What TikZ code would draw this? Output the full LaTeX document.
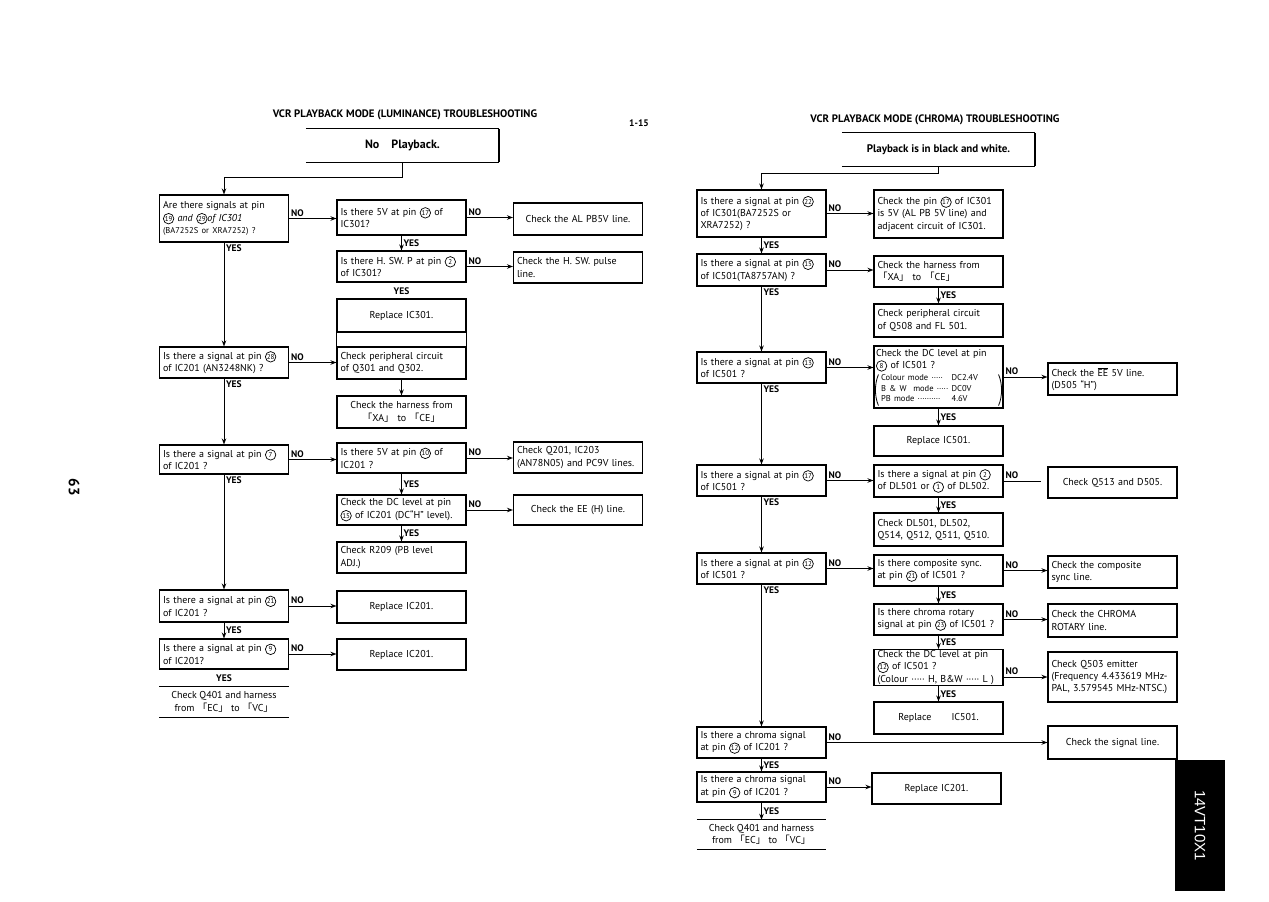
\documentclass[tikz,border=0pt]{standalone}
\usepackage{fontspec}
\setmainfont{PT Sans}
\setsansfont{Liberation Sans}
\newfontfamily\cjk{Noto Sans CJK JP}
\usetikzlibrary{arrows.meta}
\newcommand{\vcrfont}{\fontsize{10}{12.3}\selectfont}
\newcommand{\vcrsmall}{\fontsize{8.5}{11}\selectfont}
\newcommand{\lblfont}{\fontsize{9.5}{10}\selectfont\bfseries}
\newcommand{\ttlfont}{\fontsize{10.8}{12}\selectfont\bfseries}
\newcommand{\lbk}{{\cjk 「}}
\newcommand{\rbk}{{\cjk 」}}
\newcommand{\pin}[1]{\tikz[baseline=(pn.base)]\node[draw, circle, line width=0.7pt, inner sep=0pt,
  minimum size=10.5pt, text width={}, align=center, font=\fontsize{7}{7}\selectfont] (pn) {#1};}
\newcommand{\vcrblk}[6]{%
  \pgfmathsetmacro{\vcrcy}{(#3+#4)/2}%
  \pgfmathsetmacro{\vcrh}{#4-#3}%
  \node[blk, minimum height=\vcrh pt, #6] (#1) at (#2,\vcrcy) {#5};}

\begin{document}
\begin{tikzpicture}[x=1pt, y=-1pt,
  blk/.style={draw, line width=1.1pt, font=\vcrfont, align=left, text width=122pt,
              minimum width=129pt, inner xsep=3.5pt, inner ysep=1pt},
  ctr/.style={align=center},
  lbl/.style={font=\lblfont, inner sep=1.5pt},
  arr/.style={line width=1pt, -{Stealth[length=6pt,width=4.5pt]}},
  ttl/.style={font=\ttlfont}]
\fill[white] (0,0) rectangle (1269,902);
\useasboundingbox (0,0) rectangle (1269,902);
% page marks
\node[ttl] (ttlL) at (405,115) {VCR PLAYBACK MODE (LUMINANCE) TROUBLESHOOTING};
\node[font=\lblfont] (pgsec) at (639,123) {1-15};
\node[ttl] (ttlR) at (935,120) {VCR PLAYBACK MODE (CHROMA) TROUBLESHOOTING};
\node[font=\fontsize{15}{15}\selectfont\bfseries, rotate=-90] (pgno) at (74,487) {63};
\node[fill=black, text=white, rotate=-90, minimum width=131pt, minimum height=50pt,
      font=\sffamily\fontsize{15}{15}\selectfont] (tag) at (1200,825.5) {14VT10X1};

% luminance: start
\node[font=\fontsize{12}{14}\selectfont\bfseries, minimum width=193pt, minimum height=33pt] (nopb) at (402.5,145.5) {No\quad Playback.};
\draw[line width=1.1pt] (nopb.north west) -- (nopb.north east);
\draw[line width=1.1pt] (nopb.south west) -- (nopb.south east);
\draw[line width=2.2pt] (nopb.north east) -- (nopb.south east);
% luminance: left column
\vcrblk{q19}{224}{195}{242}{Are there signals at pin\\ \pin{19} \textit{and} \pin{29}\textit{of\ IC301}\\ {\vcrsmall (BA7252S or XRA7252) ?}}{}
\vcrblk{q28}{224}{347}{378}{Is there a signal at pin \pin{28}\\ of IC201 (AN3248NK) ?}{}
\vcrblk{q7}{224}{445}{474}{Is there a signal at pin \pin{7}\\ of IC201 ?}{}
\vcrblk{q21}{224}{590}{622}{Is there a signal at pin \pin{21}\\ of IC201 ?}{}
\vcrblk{q9}{224}{639}{669}{Is there a signal at pin \pin{9}\\ of IC201?}{}
\node[lbl] (yesL) at (224,678) {YES};
\node[font=\vcrfont, align=center, minimum width=129pt, minimum height=30pt] (chkL) at (224,702)
  {Check Q401 and harness\\ from \lbk EC\rbk\ to \lbk VC\rbk};
\draw[line width=1.1pt] (chkL.north west) -- (chkL.north east);
\draw[line width=1.1pt] (chkL.south west) -- (chkL.south east);
% luminance: middle column
\vcrblk{q17}{401.5}{200}{235}{Is there 5V at pin \pin{17} of\\ IC301?}{}
\vcrblk{q2}{401.5}{251}{282}{Is there H. SW. P at pin \pin{2}\\ of IC301?}{}
\node[lbl] (yes301) at (401.5,291) {YES};
\vcrblk{rep301}{401.5}{299}{332}{Replace IC301.}{ctr}
\vcrblk{per301}{401.5}{347}{379}{Check peripheral circuit\\ of Q301 and Q302.}{}
\draw[line width=1.1pt] (rep301.south west) -- (per301.north west);
\draw[line width=1.1pt] (rep301.south east) -- (per301.north east);
\vcrblk{hxa}{401.5}{396}{428}{Check the harness from\\ \lbk XA\rbk\ to \lbk CE\rbk}{ctr}
\vcrblk{q10}{401.5}{443}{473}{Is there 5V at pin \pin{10} of\\ IC201 ?}{}
\vcrblk{q15}{401.5}{495}{525}{Check the DC level at pin\\ \pin{15} of IC201 (DC“H” level).}{}
\vcrblk{r209}{401.5}{542}{573}{Check R209 (PB level\\ ADJ.)}{}
\vcrblk{rep201a}{401.5}{591}{623}{Replace IC201.}{ctr}
\vcrblk{rep201b}{401.5}{639}{670}{Replace IC201.}{ctr}
% luminance: right column
\vcrblk{alpb}{578}{203}{235}{Check the AL PB5V line.}{ctr}
\vcrblk{hswl}{578}{252}{283}{Check the H. SW. pulse\\ line.}{}
\vcrblk{q201}{578}{442}{473}{Check Q201, IC203\\ (AN78N05) and PC9V lines.}{}
\vcrblk{eeh}{578}{495}{525}{Check the EE (H) line.}{ctr}
% luminance: connectors
\draw[arr] (nopb.south) -- ++(0,15) -| (q19.north);
\draw[arr] (q19.east) -- node[lbl, pos=0, above right] {NO} (q19.east -| q17.west);
\draw[arr] (q17.east) -- node[lbl, pos=0, above right] {NO} (q17.east -| alpb.west);
\draw[arr] (q17.south) -- node[lbl, right] {YES} (q2.north);
\draw[arr] (q2.east) -- node[lbl, pos=0, above right] {NO} (q2.east -| hswl.west);
\draw[arr] (per301.south) -- (hxa.north);
\draw[arr] (q19.south) -- node[lbl, pos=0, below right] {YES} (q28.north);
\draw[arr] (q28.east) -- node[lbl, pos=0, above right] {NO} (q28.east -| per301.west);
\draw[arr] (q28.south) -- node[lbl, pos=0, below right] {YES} (q7.north);
\draw[arr] (q7.east) -- node[lbl, pos=0, above right] {NO} (q7.east -| q10.west);
\draw[arr] (q10.east) -- node[lbl, pos=0, above right] {NO} (q10.east -| q201.west);
\draw[arr] (q10.south) -- node[lbl, right] {YES} (q15.north);
\draw[arr] (q15.east) -- node[lbl, pos=0, above right] {NO} (q15.east -| eeh.west);
\draw[arr] (q15.south) -- node[lbl, right] {YES} (r209.north);
\draw[arr] (q7.south) -- node[lbl, pos=0, below right] {YES} (q21.north);
\draw[arr] (q21.east) -- node[lbl, pos=0, above right] {NO} (q21.east -| rep201a.west);
\draw[arr] (q21.south) -- node[lbl, right] {YES} (q9.north);
\draw[arr] (q9.east) -- node[lbl, pos=0, above right] {NO} (q9.east -| rep201b.west);

% chroma: start
\node[font=\fontsize{11}{13}\selectfont\bfseries, minimum width=193pt, minimum height=33pt] (pbw) at (938.5,149.5) {Playback is in black and white.};
\draw[line width=1.1pt] (pbw.north west) -- (pbw.north east);
\draw[line width=1.1pt] (pbw.south west) -- (pbw.south east);
\draw[line width=1.6pt] (pbw.north east) -- (pbw.south east);
% chroma: left column
\vcrblk{c22}{761.5}{190}{237}{Is there a signal at pin \pin{22}\\ of IC301(BA7252S or\\ XRA7252) ?}{}
\vcrblk{c15}{761.5}{254}{286}{Is there a signal at pin \pin{15}\\ of IC501(TA8757AN) ?}{}
\vcrblk{c13}{761.5}{352}{383}{Is there a signal at pin \pin{13}\\ of IC501 ?}{}
\vcrblk{c17b}{761.5}{465}{496}{Is there a signal at pin \pin{17}\\ of IC501 ?}{}
\vcrblk{c12}{761.5}{553}{584}{Is there a signal at pin \pin{12}\\ of IC501 ?}{}
\vcrblk{c12b}{761.5}{727}{758}{Is there a chroma signal\\ at pin \pin{12} of IC201 ?}{}
\vcrblk{c9}{761.5}{772}{802}{Is there a chroma signal\\ at pin \pin{9} of IC201 ?}{}
\node[font=\vcrfont, align=center, minimum width=129pt, minimum height=29pt] (chkR) at (761.5,834.5)
  {Check Q401 and harness\\ from \lbk EC\rbk\ to \lbk VC\rbk};
\draw[line width=1.1pt] (chkR.north west) -- (chkR.north east);
\draw[line width=1.1pt] (chkR.south west) -- (chkR.south east);
% chroma: middle column
\vcrblk{chk17}{938.5}{190}{238}{Check the pin \pin{17} of IC301\\ is 5V (AL PB 5V line) and\\ adjacent circuit of IC301.}{}
\vcrblk{cxa}{938.5}{256}{287}{Check the harness from\\ \lbk XA\rbk\ to \lbk CE\rbk}{}
\vcrblk{c508}{938.5}{304}{337}{Check peripheral circuit\\ of Q508 and FL 501.}{}
\vcrblk{c8}{938.5}{346}{408}{Check the DC level at pin\\ \pin{8} of IC501 ?\\[1pt]
  {\fontsize{8.5}{10.5}\selectfont\begin{tabular}{@{\hspace{5pt}}l@{ }l@{}}Colour mode ·····&DC2.4V\\ B \& W\ \ mode ·····&DC0V\\ PB mode ··········&4.6V\end{tabular}}}{inner xsep=2pt, inner ysep=0pt, text width=125pt}
\draw[line width=0.8pt] ([xshift=5pt,yshift=3pt]c8.south west) .. controls +(-4,-9) and +(-4,9) .. ++(0,-31);
\draw[line width=0.8pt] ([xshift=-5pt,yshift=3pt]c8.south east) .. controls +(4,-9) and +(4,9) .. ++(0,-31);
\vcrblk{rep501a}{938.5}{426}{456}{Replace IC501.}{ctr}
\vcrblk{cdl}{938.5}{465}{497}{Is there a signal at pin \pin{2}\\ of DL501 or \pin{1} of DL502.}{}
\vcrblk{dlck}{938.5}{513}{546}{Check DL501, DL502,\\ Q514, Q512, Q511, Q510.}{}
\vcrblk{csync}{938.5}{555}{586}{Is there composite sync.\\ at pin \pin{21} of IC501 ?}{}
\vcrblk{crot}{938.5}{604}{635}{Is there chroma rotary\\ signal at pin \pin{23} of IC501 ?}{}
\vcrblk{c12dc}{938.5}{651}{684}{Check the DC level at pin\\ \pin{12} of IC501 ?\\ (Colour ····· H, B\&W ····· L )}{}
\vcrblk{rep501b}{938.5}{702}{734}{Replace\quad\quad IC501.}{ctr}
\vcrblk{rep201c}{936.5}{773}{804}{Replace IC201.}{ctr}
% chroma: right column
\vcrblk{ee5}{1112.5}{363}{395}{Check the $\overline{\mbox{EE}}$ 5V line.\\ (D505 “H”)}{}
\vcrblk{q513}{1112.5}{467}{498}{Check Q513 and D505.}{ctr}
\vcrblk{csyncl}{1112.5}{556}{588}{Check the composite\\ sync line.}{}
\vcrblk{crotl}{1112.5}{604}{637}{Check the CHROMA\\ ROTARY line.}{}
\vcrblk{q503}{1112.5}{652}{702}{Check Q503 emitter\\ (Frequency 4.433619 MHz-\\ PAL, 3.579545 MHz-NTSC.)}{}
\vcrblk{sigl}{1112.5}{726}{759}{Check the signal line.}{ctr}
% chroma: connectors
\draw[arr] (pbw.south) -- ++(0,7) -| (c22.north);
\draw[arr] (c22.east) -- node[lbl, pos=0, above right] {NO} (c22.east -| chk17.west);
\draw[arr] (c22.south) -- node[lbl, right] {YES} (c15.north);
\draw[arr] (c15.east) -- node[lbl, pos=0, above right] {NO} (c15.east -| cxa.west);
\draw[arr] (cxa.south) -- node[lbl, right] {YES} (c508.north);
\draw[arr] (c15.south) -- node[lbl, pos=0, below right] {YES} (c13.north);
\draw[arr] (c13.east) -- node[lbl, pos=0, above right] {NO} (c13.east -| c8.west);
\draw[arr] (c8.east) -- node[lbl, pos=0, above right] {NO} (c8.east -| ee5.west);
\draw[arr] (c8.south) -- node[lbl, right] {YES} (rep501a.north);
\draw[arr] (c13.south) -- node[lbl, pos=0, below right] {YES} (c17b.north);
\draw[arr] (c17b.east) -- node[lbl, pos=0, above right] {NO} (c17b.east -| cdl.west);
\draw[line width=1pt] (cdl.east) -- node[lbl, pos=0, above right] {NO} ++(37,0);
\draw[arr] (cdl.south) -- node[lbl, right] {YES} (dlck.north);
\draw[arr] (c17b.south) -- node[lbl, pos=0, below right] {YES} (c12.north);
\draw[arr] (c12.east) -- node[lbl, pos=0, above right] {NO} (c12.east -| csync.west);
\draw[arr] (csync.east) -- node[lbl, pos=0, above right] {NO} (csync.east -| csyncl.west);
\draw[arr] (csync.south) -- node[lbl, right] {YES} (crot.north);
\draw[arr] (crot.east) -- node[lbl, pos=0, above right] {NO} (crot.east -| crotl.west);
\draw[arr] (crot.south) -- node[lbl, right] {YES} (c12dc.north);
\draw[arr] (q503.west -| c12dc.east) -- node[lbl, pos=0, above right] {NO} (q503.west);
\draw[arr] (c12dc.south) -- node[lbl, right] {YES} (rep501b.north);
\draw[arr] (c12.south) -- node[lbl, pos=0, below right] {YES} (c12b.north);
\draw[arr] (c12b.east) -- node[lbl, pos=0, above right] {NO} (c12b.east -| sigl.west);
\draw[arr] (c12b.south) -- node[lbl, right] {YES} (c9.north);
\draw[arr] (c9.east) -- node[lbl, pos=0, above right] {NO} (c9.east -| rep201c.west);
\draw[arr] (c9.south) -- node[lbl, right] {YES} (chkR.north);
\end{tikzpicture}
\end{document}
